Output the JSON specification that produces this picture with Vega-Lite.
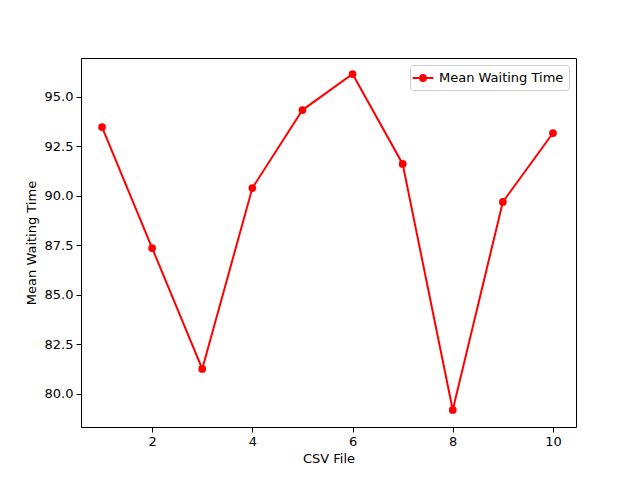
{
  "$schema": "https://vega.github.io/schema/vega-lite/v6.json",
  "width": 495,
  "height": 369,
  "autosize": {"type": "none"},
  "padding": {"left": 81, "top": 58, "right": 64, "bottom": 53},
  "background": "white",
  "config": {
    "font": "DejaVu Sans",
    "view": {"stroke": "black", "strokeWidth": 1},
    "axis": {"grid": false, "domain": false, "tickColor": "black", "tickSize": 5, "labelFontSize": 13, "titleFontSize": 13, "titleFontWeight": "normal", "labelColor": "black", "titleColor": "black", "labelPadding": 3}
  },
  "data": {"values": [
    {"file": 1, "mean": 93.48, "s": "Mean Waiting Time"},
    {"file": 2, "mean": 87.37, "s": "Mean Waiting Time"},
    {"file": 3, "mean": 81.26, "s": "Mean Waiting Time"},
    {"file": 4, "mean": 90.4, "s": "Mean Waiting Time"},
    {"file": 5, "mean": 94.34, "s": "Mean Waiting Time"},
    {"file": 6, "mean": 96.16, "s": "Mean Waiting Time"},
    {"file": 7, "mean": 91.62, "s": "Mean Waiting Time"},
    {"file": 8, "mean": 79.19, "s": "Mean Waiting Time"},
    {"file": 9, "mean": 89.7, "s": "Mean Waiting Time"},
    {"file": 10, "mean": 93.18, "s": "Mean Waiting Time"}
  ]},
  "mark": {"type": "line", "strokeWidth": 2, "point": {"filled": true, "size": 60, "opacity": 1}},
  "encoding": {
    "x": {"field": "file", "type": "quantitative", "title": "CSV File", "scale": {"domain": [0.58, 10.46], "nice": false, "zero": false}, "axis": {"values": [2, 4, 6, 8, 10], "titlePadding": 4}},
    "y": {"field": "mean", "type": "quantitative", "title": "Mean Waiting Time", "scale": {"domain": [78.33, 96.97], "nice": false, "zero": false}, "axis": {"values": [80, 82.5, 85, 87.5, 90, 92.5, 95], "format": ".1f", "titlePadding": 6}},
    "color": {"field": "s", "type": "nominal", "scale": {"range": ["red"]}, "legend": {"title": null, "orient": "top-right", "offset": 7, "labelFontSize": 13, "labelOffset": 8, "symbolType": "M-1.5,0L1.5,0M-0.42,0A0.42,0.42 0 1,0 0.42,0A0.42,0.42 0 1,0 -0.42,0", "symbolSize": 190, "symbolStrokeWidth": 2, "symbolFillColor": "red", "strokeColor": "#cccccc", "fillColor": "white", "padding": 5, "cornerRadius": 3}}
  }
}
